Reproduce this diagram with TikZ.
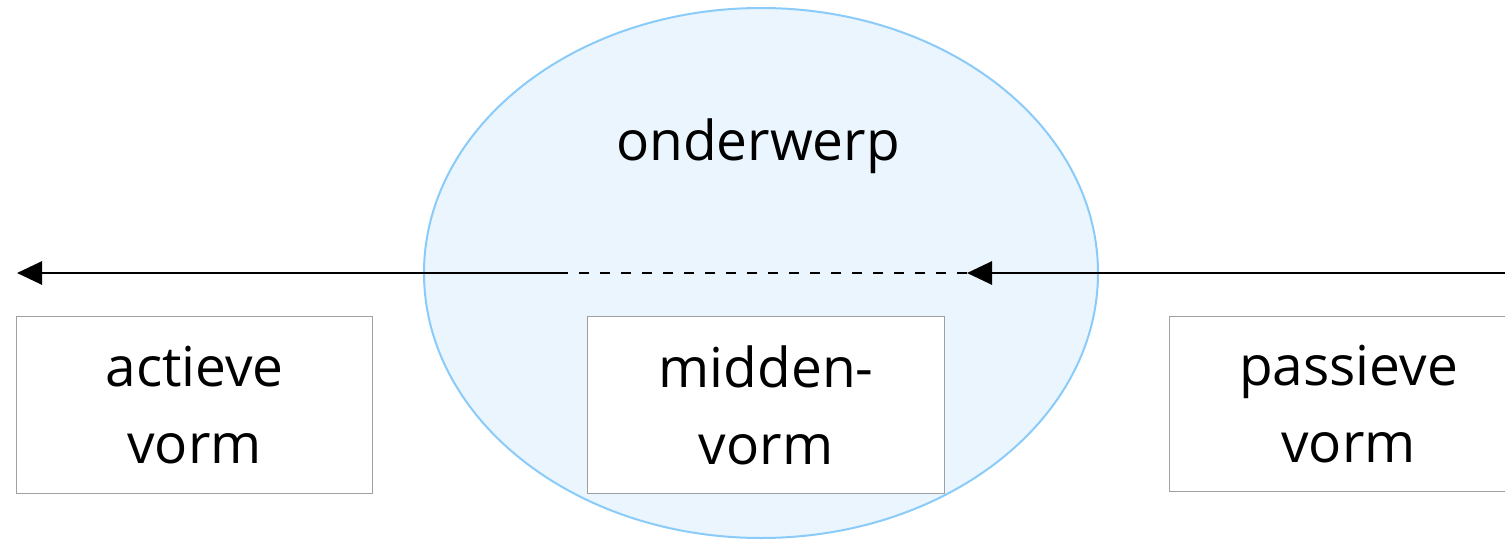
\documentclass[tikz,border=0pt]{standalone}
\usepackage{fontspec}
\setmainfont{Open Sans}
\usetikzlibrary{arrows.meta,shapes.geometric}
\definecolor{ellfill}{HTML}{EAF5FE}
\definecolor{elldraw}{HTML}{8ACBFA}
\definecolor{boxdraw}{HTML}{A0A0A0}
\tikzset{
  formbox/.style={draw=boxdraw,line width=1.2pt,fill=white,minimum width=356pt,minimum height=177pt,inner sep=0pt,align=center,font=\fontsize{55}{77}\selectfont,anchor=north west},
  bubble/.style={ellipse,draw=elldraw,line width=2pt,fill=ellfill,minimum width=674pt,minimum height=530pt,inner sep=0pt},
  flowline/.style={line width=2.8pt,black},
  flowarrow/.style={flowline,-{Triangle[length=25pt,width=23pt]}},
  lbl/.style={font=\fontsize{55}{77}\selectfont,inner sep=0pt}
}
\begin{document}
\begin{tikzpicture}[x=1pt,y=-1pt]
\useasboundingbox (0,0) rectangle (1505,543);
\node[bubble] (subj) at (761,273) {};
\node[lbl] (onder) at (758,146) {onderwerp};
\coordinate (rstart) at (1510,273);
\coordinate (rtip) at (967,273);
\coordinate (dend) at (568,273);
\coordinate (ltip) at (17,273);
\draw[flowarrow] (rstart) -- (rtip);
\draw[flowline,dash pattern=on 10pt off 11pt] (rtip) -- (dend);
\draw[flowarrow] (dend) -- (ltip);
\node[formbox] (act) at (16,316) {actieve\\vorm};
\node[formbox,minimum width=357pt] (mid) at (587,316) {midden-\\vorm};
\node[formbox,minimum width=358pt,minimum height=175pt] (pas) at (1169,316) {passieve\\vorm};
\end{tikzpicture}
\end{document}
